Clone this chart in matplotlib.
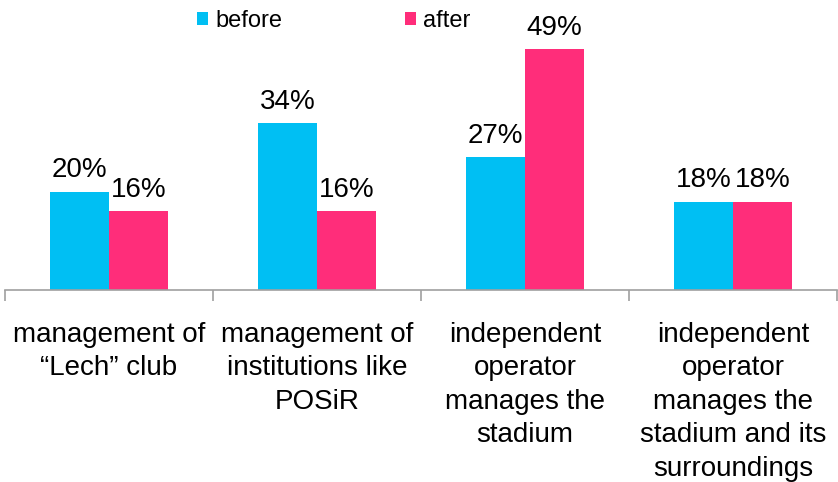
import numpy as np
from matplotlib import pyplot as plt

# 数据
categories = ['management of\n\u201cLech\u201d club',
              'management of\ninstitutions like\nPOSiR',
              'independent\noperator\nmanages the\nstadium',
              'independent\noperator\nmanages the\nstadium and its\nsurroundings']
before = [0.20, 0.34, 0.27, 0.18]
after = [0.16, 0.16, 0.49, 0.18]
series_names = ['before', 'after']
colors = ['#00BFF3', '#FF2D7A']

plt.rcParams['font.family'] = ['Liberation Sans', 'DejaVu Sans']

fig = plt.figure(figsize=(8.38, 4.82), dpi=100)
ax = fig.add_axes([5 / 838, 192 / 482, 832 / 838, 270 / 482])

x = np.arange(len(categories))
w = 0.285
b1 = ax.bar(x - w / 2, before, w, color=colors[0], label=series_names[0])
b2 = ax.bar(x + w / 2, after, w, color=colors[1], label=series_names[1])

for bars in (b1, b2):
    for rect in bars:
        h = rect.get_height()
        ax.annotate('%d%%' % round(h * 100), (rect.get_x() + rect.get_width() / 2, h),
                    xytext=(0, 6), textcoords='offset points',
                    ha='center', va='bottom', fontsize=20)

ax.set_xlim(-0.5, len(categories) - 0.5)
ax.set_ylim(0, 0.55)
ax.set_yticks([])
for s in ('top', 'right', 'left'):
    ax.spines[s].set_visible(False)
ax.spines['bottom'].set_color('#A0A0A0')
ax.spines['bottom'].set_linewidth(1.2)

ax.set_xticks(x)
ax.set_xticklabels(categories, fontsize=20, linespacing=1.37, va='top')
ax.tick_params(axis='x', which='major', length=0, pad=23)
ax.set_xticks(np.arange(len(categories) + 1) - 0.5, minor=True)
ax.tick_params(axis='x', which='minor', length=8, color='#A0A0A0', width=1.2)

ax.legend(loc='upper left', bbox_to_anchor=(180 / 832, 1.08), ncol=2, frameon=False,
          fontsize=17, handlelength=0.47, handleheight=0.47, handletextpad=0.3,
          columnspacing=5.2, borderpad=0)

fig.savefig('out.png', dpi=100)
